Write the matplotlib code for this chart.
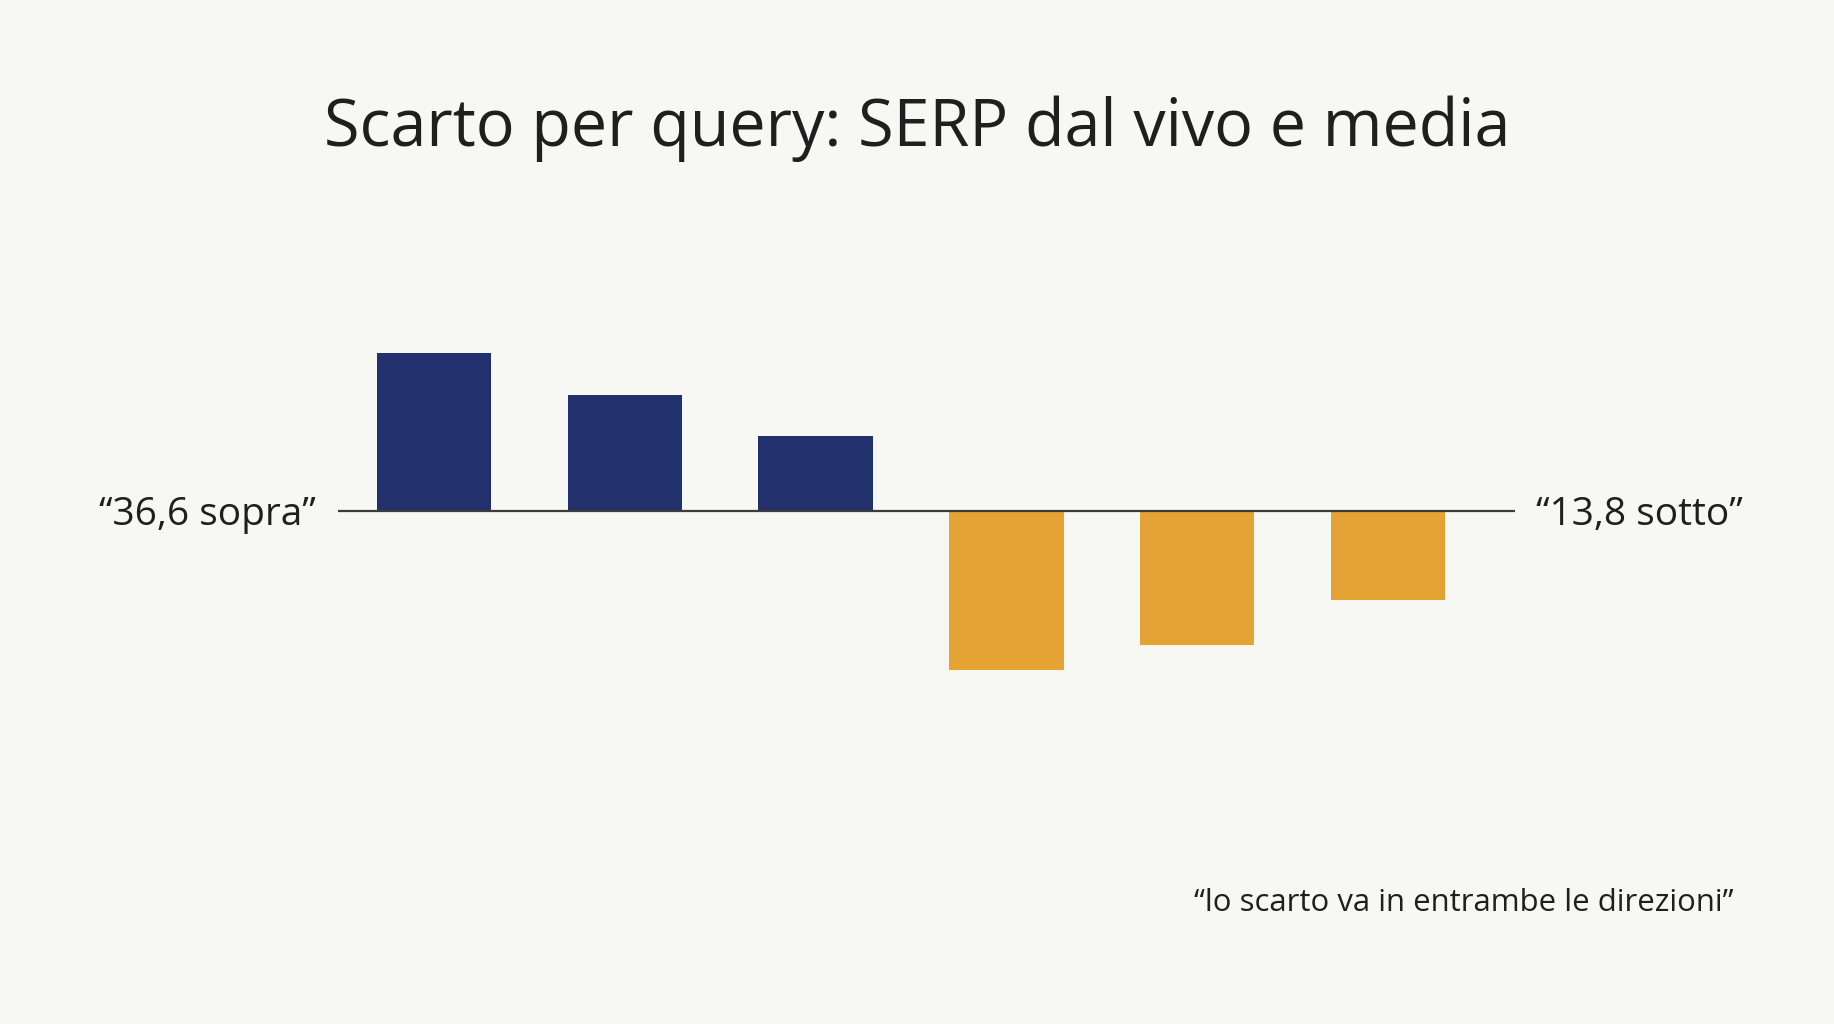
#!/usr/bin/env python3
"""Per-query gap between live SERP and average, as a diverging bar chart."""

import matplotlib
matplotlib.use("Agg")
import matplotlib.pyplot as plt

# chart data (arbitrary units)
queries = ["q1", "q2", "q3", "q4", "q5", "q6"]
gaps = [15.8, 11.6, 7.5, -15.9, -13.4, -8.9]

title = "Scarto per query: SERP dal vivo e media"
left_label = "\u201c36,6 sopra\u201d"
right_label = "\u201c13,8 sotto\u201d"
note = "\u201clo scarto va in entrambe le direzioni\u201d"

BG = "#f7f7f3"
NAVY = "#22306e"
ORANGE = "#e5a334"
INK = "#1f1f1f"

plt.rcParams["font.family"] = ["Open Sans", "DejaVu Sans"]

W, H = 1834, 1024
fig = plt.figure(figsize=(W / 100, H / 100), dpi=100, facecolor=BG)

# axes placed in pixel terms, then turned into figure fractions
ax_left, ax_right = 338, 1515
ax_top, ax_bottom = 300, 720
ax = fig.add_axes([ax_left / W, 1 - ax_bottom / H,
                   (ax_right - ax_left) / W, (ax_bottom - ax_top) / H])
ax.set_facecolor(BG)

x = list(range(len(queries)))
colors = [NAVY if v > 0 else ORANGE for v in gaps]
ax.bar(x, gaps, width=0.6, color=colors, zorder=2)
ax.axhline(0, color="#3c3c3c", linewidth=1.6, zorder=3)

ax.set_xlim(-0.503, 5.666)
ax.set_ylim(-20.9, 21.1)
ax.axis("off")

fig.text(0.5, 1 - 129 / H, title, ha="center", va="center",
         fontsize=46.5, color=INK)
fig.text(316 / W, 1 - 515 / H, left_label, ha="right", va="center",
         fontsize=28, color=INK)
fig.text(1536 / W, 1 - 515 / H, right_label, ha="left", va="center",
         fontsize=28, color=INK)
fig.text(1734 / W, 1 - 903 / H, note, ha="right", va="center",
         fontsize=22.4, color=INK)

fig.savefig("out.png", dpi=100, facecolor=BG)
